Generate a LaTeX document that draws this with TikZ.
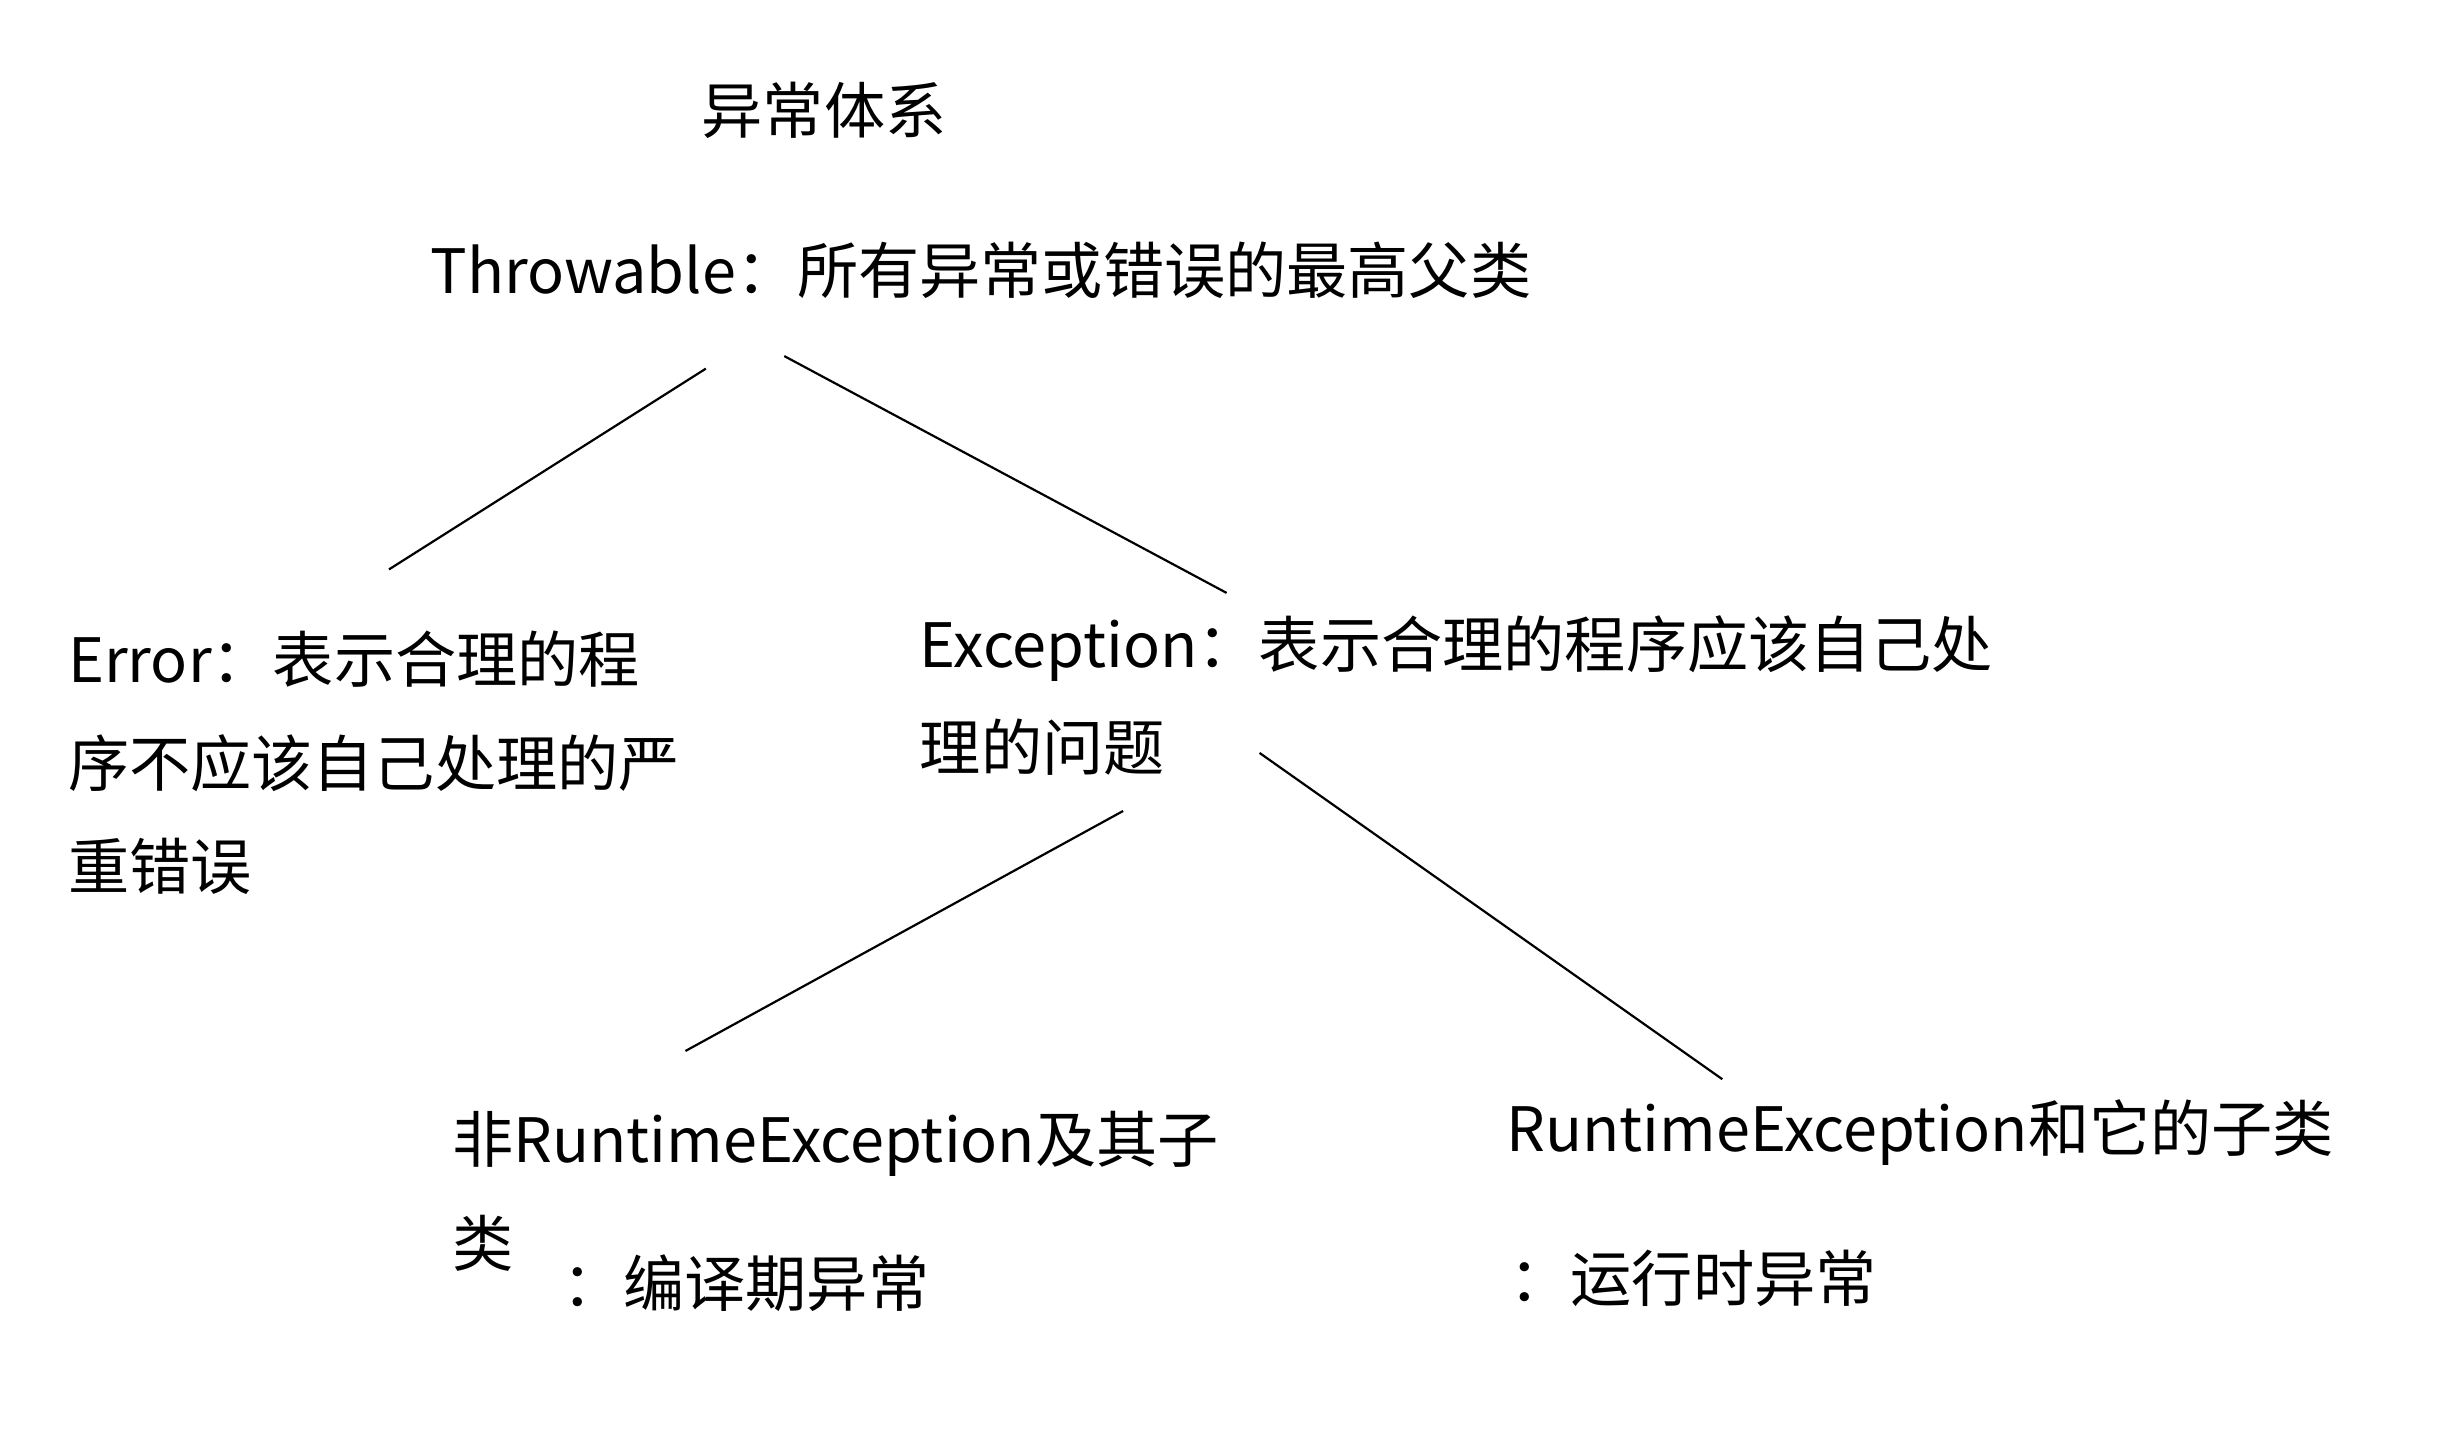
\documentclass[tikz,border=0pt]{standalone}
\usepackage{fontspec}
\setmainfont{Noto Sans CJK SC}
\begin{document}
\begin{tikzpicture}[
  x=0.5pt, y=-0.5pt,
  txt/.style={inner sep=0pt, anchor=west, font=\fontsize{19.5}{33}\selectfont},
  para/.style={txt, anchor=north west, align=left},
  link/.style={line width=0.7pt}
]
\useasboundingbox (0,0) rectangle (1560,918);

\node[txt] (title) at (447,70) {异常体系};
\node[txt] (throwable) at (274,172) {Throwable：所有异常或错误的最高父类};

\node[para] (error) at (43,402) {Error：表示合理的程\\序不应该自己处理的严\\重错误};
\node[para] (exception) at (586,392) {Exception：表示合理的程序应该自己处\\理的问题};

\node[para] (checked) at (288,708) {非RuntimeException及其子\\类};
\node[txt] (checkedNote) at (358,818) {：编译期异常};
\node[txt] (runtime) at (960,722) {RuntimeException和它的子类};
\node[txt] (runtimeNote) at (962,815) {：运行时异常};

% free ends of the connectors
\coordinate (thrL) at (450,235);
\coordinate (thrR) at (500,227);
\coordinate (errTop) at (248,363);
\coordinate (excTop) at (782,378);
\coordinate (excL) at (716,517);
\coordinate (excR) at (803,480);
\coordinate (chkTop) at (437,670);
\coordinate (rtTop) at (1098,688);

\draw[link] (thrL) -- (errTop);
\draw[link] (thrR) -- (excTop);
\draw[link] (excL) -- (chkTop);
\draw[link] (excR) -- (rtTop);
\end{tikzpicture}
\end{document}
